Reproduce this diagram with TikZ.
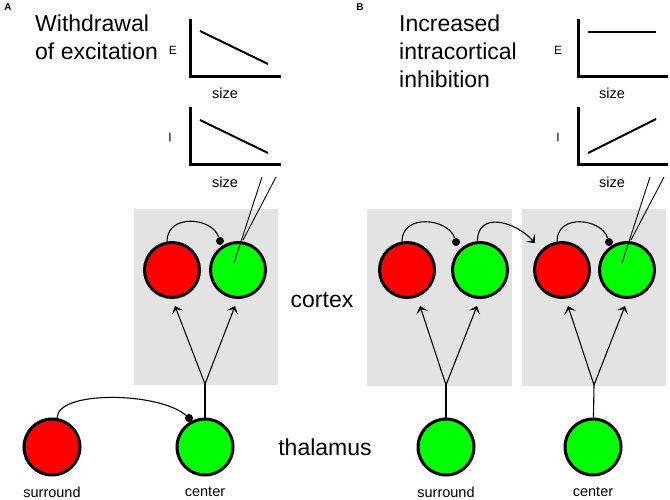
\documentclass[tikz,border=0pt]{standalone}
\usepackage{fontspec}
\setmainfont{Liberation Sans}
\usetikzlibrary{arrows.meta,calc}
\definecolor{cellred}{RGB}{255,0,0}
\definecolor{cellgreen}{RGB}{0,255,0}
\definecolor{boxgray}{RGB}{227,227,227}
\begin{document}
\begin{tikzpicture}[x=1pt,y=-1pt,
  cell/.style={circle,draw=black,line width=3pt,minimum size=55pt,inner sep=0pt},
  rcell/.style={cell,fill=cellred},
  gcell/.style={cell,fill=cellgreen},
  tcell/.style={minimum size=56pt},
  dot/.style={circle,fill=black,minimum size=8pt,inner sep=0pt},
  region/.style={fill=boxgray,draw=none},
  axisline/.style={line width=3pt,line join=miter,line cap=butt},
  dataline/.style={line width=2pt},
  tipstyle/.style={-{Stealth[length=7pt,width=12pt,inset=3.5pt]}},
  proj/.style={line width=1.1pt,tipstyle},
  link/.style={line width=1.1pt},
  elec/.style={line width=0.9pt},
  big/.style={font=\fontsize{23}{28}\selectfont,inner sep=0pt},
  small/.style={font=\fontsize{14.5}{17}\selectfont,inner sep=0pt},
  axlab/.style={font=\fontsize{12}{14}\selectfont,inner sep=0pt},
  panel/.style={font=\fontsize{10}{12}\selectfont\bfseries,inner sep=0pt}
]
\useasboundingbox (0,0) rectangle (670,499);

% panel labels and titles
\node[panel] (lA) at (8,7.5) {A};
\node[panel] (lB) at (360,7.5) {B};
\node[big,anchor=north west,align=left] (tA) at (35,15) {Withdrawal\\of excitation};
\node[big,anchor=north west,align=left] (tB) at (399,15) {Increased\\intracortical\\inhibition};

% charts A
\draw[axisline] (190,19) -- (190,76) -- (281,76);
\draw[dataline] (200,31) -- (268,64);
\node[axlab] (eA) at (173,50) {E};
\node[small] (sA1) at (225,93) {size};
\draw[axisline] (190,107) -- (190,164) -- (281,164);
\draw[dataline] (200,120) -- (268,153);
\node[axlab] (iA) at (170,137) {I};
\node[small] (sA2) at (225,182) {size};

% charts B
\draw[axisline] (578,19) -- (578,76) -- (668,76);
\draw[dataline] (588,32) -- (656,32);
\node[axlab] (eB) at (558,50) {E};
\node[small] (sB1) at (612,93) {size};
\draw[axisline] (578,107) -- (578,164) -- (668,164);
\draw[dataline] (588,153) -- (656,119);
\node[axlab] (iB) at (558,137) {I};
\node[small] (sB2) at (612,182) {size};

% gray regions
\fill[region] (134,209) rectangle (278,385);
\fill[region] (367,209) rectangle (512,386);
\fill[region] (522,209) rectangle (666,386);

% region labels
\node[big] (cx) at (322,300) {cortex};
\node[big] (th) at (325,447) {thalamus};

% cortex cells
\node[rcell] (rA) at (172,270) {};
\node[gcell] (gA) at (238,270) {};
\node[rcell] (rB1) at (407,270) {};
\node[gcell] (gB1) at (480,270) {};
\node[rcell] (rB2) at (562,270) {};
\node[gcell] (gB2) at (627,270) {};

% thalamus cells
\node[rcell,tcell] (trA) at (52,447) {};
\node[gcell,tcell] (tgA) at (205,447) {};
\node[gcell,tcell] (tsB) at (446,447) {};
\node[gcell,tcell] (tcB) at (593,447) {};
\node[small] (lsA) at (52,492) {surround};
\node[small] (lcA) at (205,492) {center};
\node[small] (lsB) at (446,492) {surround};
\node[small] (lcB) at (593,492) {center};

% branch points and arrow tips
\coordinate (bA) at (205,384);
\coordinate (bB1) at (446,385);
\coordinate (bB2) at (594,385);
\coordinate (aA1) at (175,306);
\coordinate (aA2) at (235,306);
\coordinate (aB1) at (420,306);
\coordinate (aB2) at (477,306);
\coordinate (aB3) at (568,306);
\coordinate (aB4) at (625,306);

\draw[link] (tgA) -- (bA);
\draw[link] (tsB) -- (bB1);
\draw[link] (tcB) -- (bB2);
\draw[proj] (bA) -- (aA1);
\draw[proj] (bA) -- (aA2);
\draw[proj] (bB1) -- (aB1);
\draw[proj] (bB1) -- (aB2);
\draw[proj] (bB2) -- (aB3);
\draw[proj] (bB2) -- (aB4);

% inhibitory dots
\node[dot] (dA) at (220,241) {};
\node[dot] (dB1) at (456,242) {};
\node[dot] (dB2) at (609,242) {};
\node[dot] (dT) at (189,418) {};

\draw[link] (rA.100) .. controls +(0,-28) and +(-8,-24) .. (dA);
\draw[link] (rB1.100) .. controls +(0,-28) and +(-8,-24) .. (dB1);
\draw[link] (rB2.100) .. controls +(0,-28) and +(-8,-24) .. (dB2);
\draw[link] (trA.80) .. controls +(0,-28) and +(-30,-26) .. (dT);
\coordinate (eB1end) at (535,243);
\draw[link,tipstyle] (gB1.95) .. controls +(0,-30) and +(-20,-22) .. (eB1end);

% electrodes
\draw[elec] (262,177) -- (234,263);
\draw[elec] (276,177) -- (243,240);
\draw[elec] (650,177) -- (622,263);
\draw[elec] (664,177) -- (631,240);
\end{tikzpicture}
\end{document}
